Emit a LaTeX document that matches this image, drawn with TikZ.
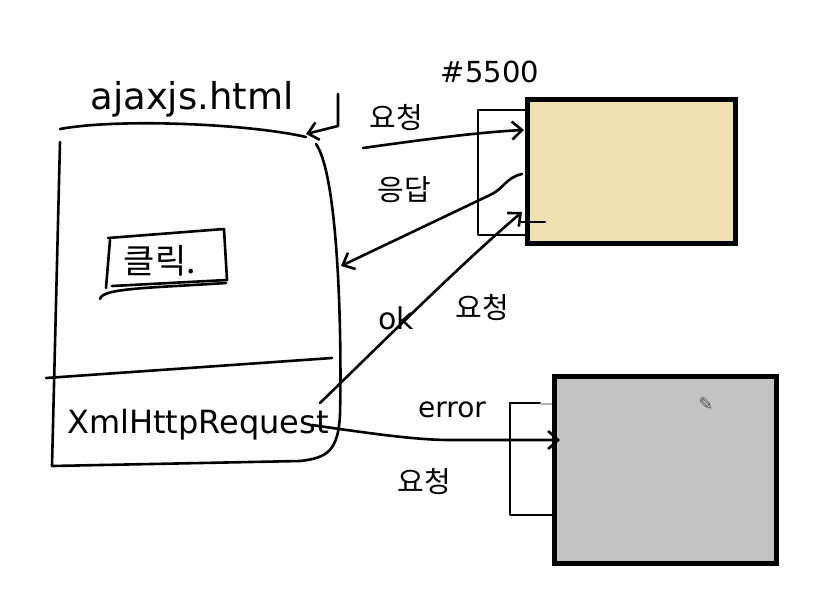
\documentclass[tikz,border=0pt]{standalone}
\usepackage{fontspec}
\setmainfont{DejaVu Sans}
\newfontfamily\kr{Noto Sans CJK KR}
\usetikzlibrary{arrows.meta}
\definecolor{tan}{HTML}{F0E2B0}
\definecolor{greybox}{HTML}{C3C3C3}
\begin{document}
\begin{tikzpicture}[x=1pt,y=-1pt,
  ink/.style={line width=2.6pt, line cap=round, line join=round},
  thinink/.style={line width=2pt, line cap=round, line join=round},
  arr/.style={ink,-{Straight Barb[length=10pt,width=18pt,line width=2.6pt]}},
  krlabel/.style={font=\kr\fontsize{29}{29}\selectfont, inner sep=0pt},
  lat/.style={inner sep=0pt},
  server/.style={draw, line width=5pt, anchor=north west, inner sep=0pt}
]
\useasboundingbox (0,0) rectangle (818,599);
\fill[white] (0,0) rectangle (818,599);

% html page box
\draw[ink] (60,129) .. controls (120,118) and (250,124) .. (306,137);
\draw[ink] (60,142) -- (52,466) -- (300,461);
\draw[ink] (316,144) .. controls (338,175) and (342,330) .. (340,415)
           .. controls (338,450) and (328,458) .. (300,461);
\draw[ink] (46,378) -- (332,358);
\node[lat, font=\fontsize{37}{37}\selectfont] (title) at (192,99) {ajaxjs.html};
\node[lat, font=\fontsize{32}{32}\selectfont] (xhr) at (198,425) {XmlHttpRequest};

% click button
\draw[ink] (108,238) -- (224,229) -- (227,280) -- (112,286) ;
\draw[ink] (110,240) -- (106,288);
\draw[ink] (100,299) .. controls (102,288) and (150,288) .. (226,283);
\node[krlabel, font=\kr\fontsize{34}{34}\selectfont] (click) at (160,261) {클릭.};

% small arrow into page
\coordinate (hookA) at (338,94);
\coordinate (hookB) at (338,126);
\coordinate (hookC) at (306,134);
\draw[arr] (hookA) -- (hookB) -- (hookC);

% server 5500
\node[server, fill=tan, minimum width=208pt, minimum height=144pt] (srv) at (525,97) {};
\draw[thinink] (525,110) -- (478,110) -- (478,235) -- (525,235);
\draw[thinink] (520,222) -- (545,222);
\node[lat, font=\fontsize{29}{29}\selectfont] (port) at (490,72) {\#5500};

% error server
\node[server, fill=greybox, minimum width=222pt, minimum height=187pt] (err) at (552,374) {};
\draw[thinink] (552,515) -- (510,515) -- (510,403) -- (540,403);
\draw[line width=2pt, gray!60] (540,404) -- (552,404);
\node[lat, font=\fontsize{18}{18}\selectfont, text=gray!70!black] (pencil) at (706,404) {✎};

% connectors
\coordinate (reqS) at (363,148);
\coordinate (reqE) at (524,130);
\draw[arr] (reqS) .. controls (420,140) and (480,132) .. (reqE);
\node[krlabel] (l1) at (396,118) {요청};

\coordinate (resS) at (522,174);
\coordinate (resE) at (341,266);
\draw[arr] (resS) .. controls (505,178) and (505,188) .. (490,195) -- (resE);
\node[krlabel] (l2) at (404,190) {응답};

\coordinate (okS) at (320,403);
\coordinate (okE) at (522,212);
\draw[arr] (okS) .. controls (390,335) and (460,265) .. (okE);
\node[lat, font=\fontsize{30}{30}\selectfont] (l3) at (396,318) {ok};
\node[krlabel] (l4) at (482,308) {요청};

\coordinate (errS) at (312,425);
\coordinate (errE) at (560,440);
\draw[arr] (errS) .. controls (380,435) and (420,440) .. (450,440) -- (errE);
\node[lat, font=\fontsize{28}{28}\selectfont] (l5) at (452,410) {error};
\node[krlabel] (l6) at (424,482) {요청};
\end{tikzpicture}
\end{document}
